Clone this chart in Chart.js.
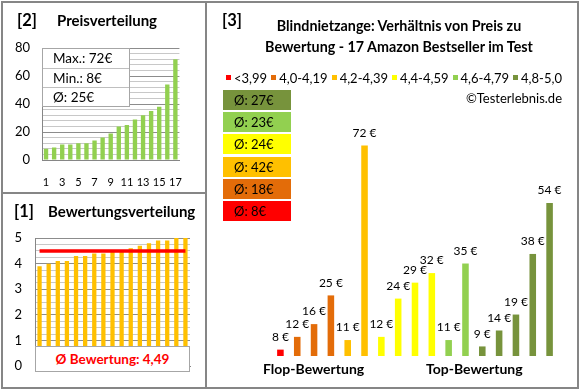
<!DOCTYPE html>
<html lang="de">
<head>
<meta charset="utf-8">
<title>Blindnietzange: Verhältnis von Preis zu Bewertung</title>
<script src="https://cdn.jsdelivr.net/npm/chart.js@4.4.1/dist/chart.umd.min.js"></script>
<style>
  body { margin: 0; background: #fff; font-family: Lato, "Open Sans", sans-serif; color: #000; }
  #wrap { position: relative; width: 580px; height: 390px; overflow: hidden; background: #fff; }
  #wrap > div, #wrap > canvas { position: absolute; }
  .rahmen { left: 1px; top: 1px; width: 578px; height: 388px; box-sizing: border-box; border: 2px solid #868686; }
  .trenn { background: #868686; }
  .nr { font-weight: bold; font-size: 16.5px; line-height: 18px; }
  .kopf { font-weight: bold; font-size: 15px; line-height: 18px; white-space: nowrap; }
  .infobox { left: 42px; top: 48px; width: 88px; background: #fff; border: 1px solid #a6a6a6; box-sizing: border-box; }
  .infobox .zeile { height: 19px; line-height: 19px; padding-left: 10px; font-size: 13.5px; border-top: 1px solid #bfbfbf; box-sizing: border-box; }
  .infobox .zeile:first-child { border-top: none; }
  .avgbox { left: 35px; top: 346px; width: 155px; height: 26px; background: #fff; border: 1px solid #a6a6a6; box-sizing: border-box;
            color: #ff0000; font-weight: bold; font-size: 13.5px; line-height: 24px; text-align: center; }
  #legende { left: 226px; top: 70px; width: 336px; display: flex; justify-content: space-between; font-size: 13px; line-height: 16px; white-space: nowrap; }
  #legende span { display: inline-block; width: 5px; height: 5px; margin-right: 3px; vertical-align: 3px; }
  .gruppe { position: absolute; left: 223px; width: 68px; height: 20px; line-height: 20px; font-size: 13px; padding-left: 11px; box-sizing: border-box; }
</style>
</head>
<body>
<div id="wrap">
  <canvas id="preisChart" width="195" height="189" style="left:3px;top:3px"></canvas>
  <canvas id="bewChart" width="195" height="193" style="left:3px;top:194px"></canvas>
  <canvas id="verhChart" width="369" height="383" style="left:207px;top:3px"></canvas>

  <div class="rahmen"></div>
  <div class="trenn" style="left:205px;top:1px;width:2px;height:388px"></div>
  <div class="trenn" style="left:1px;top:192px;width:205px;height:2px"></div>

  <div class="nr" style="left:17px;top:11px">[2]</div>
  <div class="kopf" style="left:57px;top:11px">Preisverteilung</div>
  <div class="infobox" id="infobox"></div>

  <div class="nr" style="left:14px;top:202px">[1]</div>
  <div class="kopf" style="left:48px;top:202px">Bewertungsverteilung</div>
  <div class="avgbox" id="avgbox"></div>

  <div class="nr" style="left:222px;top:11px">[3]</div>
  <div class="kopf" style="left:240px;top:15px;width:318px;text-align:center;line-height:21px;font-size:14.3px">Blindnietzange: Verhältnis von Preis zu<br>Bewertung - 17 Amazon Bestseller im Test</div>
  <div id="legende"></div>
  <div style="right:18px;top:90px;font-size:13px;line-height:16px">©Testerlebnis.de</div>
  <div id="gruppen"></div>
  <div class="kopf" style="left:263px;top:360px;font-size:14px">Flop-Bewertung</div>
  <div class="kopf" style="left:426px;top:360px;font-size:14px">Top-Bewertung</div>
</div>

<script>
// Daten
const positionen = ['1','2','3','4','5','6','7','8','9','10','11','12','13','14','15','16','17'];
const preiseSortiert = [8, 9, 11, 11, 12, 12, 14, 16, 19, 24, 25, 29, 32, 35, 38, 54, 72];
const bewertungenSortiert = [3.9, 4.0, 4.1, 4.1, 4.3, 4.3, 4.4, 4.4, 4.5, 4.5, 4.6, 4.7, 4.8, 4.9, 4.9, 5.0, 5.0];
const preisTicks = [0, 20, 40, 60, 80];
const bewertungTicks = [0, 1, 2, 3, 4, 5];
const preisMax = 72;
const preisMin = 8;
const preisSchnitt = 25;
const bewertungSchnitt = 4.49;

const gruppenNamen = ['<3,99', '4,0-4,19', '4,2-4,39', '4,4-4,59', '4,6-4,79', '4,8-5,0'];
const gruppenFarben = ['#FF0000', '#E36C09', '#FFC000', '#FFFF00', '#92D050', '#77933C'];
const gruppenSchnitt = [8, 18, 42, 24, 23, 27];
const produktPreise = [8, 12, 16, 25, 11, 72, 12, 24, 29, 32, 11, 35, 9, 14, 19, 38, 54];
const produktGruppe = [0, 1, 1, 1, 2, 2, 3, 3, 3, 3, 4, 4, 5, 5, 5, 5, 5];

Chart.defaults.font.family = 'Lato';
Chart.defaults.color = '#000';
Chart.defaults.animation = false;
Chart.defaults.responsive = false;
Chart.defaults.plugins.legend.display = false;
Chart.defaults.plugins.tooltip.enabled = false;

// Infobox Preise
document.getElementById('infobox').innerHTML =
    '<div class="zeile">Max.: ' + preisMax + '€</div>' +
    '<div class="zeile">Min.: ' + preisMin + '€</div>' +
    '<div class="zeile">Ø: ' + preisSchnitt + '€</div>';
document.getElementById('avgbox').textContent = 'Ø Bewertung: ' + String(bewertungSchnitt).replace('.', ',');

// Legende + Durchschnitt je Gruppe
let html = '';
gruppenNamen.forEach(function(name, i) {
    html += '<div><span style="background:' + gruppenFarben[i] + '"></span>' + name + '</div>';
});
document.getElementById('legende').innerHTML = html;

html = '';
for (let i = gruppenNamen.length - 1, r = 0; i >= 0; i--, r++) {
    html += '<div class="gruppe" style="top:' + Math.round(90 + r * 22.2) + 'px;background:' + gruppenFarben[i] + '">Ø: ' + gruppenSchnitt[i] + '€</div>';
}
document.getElementById('gruppen').innerHTML = html;

function gitterFarbe(major) {
    return function(ctx) {
        return ctx.tick && major(ctx.tick.value) ? '#8c8c8c' : '#c8c8c8';
    };
}

// [2] Preisverteilung
new Chart(document.getElementById('preisChart'), {
    type: 'bar',
    data: {
        labels: positionen,
        datasets: [{
            data: preiseSortiert,
            backgroundColor: '#92D050',
            barPercentage: 0.54,
            categoryPercentage: 1
        }]
    },
    options: {
        layout: { padding: { top: 45, right: 8, left: 0, bottom: 0 } },
        scales: {
            x: {
                grid: { display: false, drawTicks: false },
                border: { color: '#868686' },
                ticks: {
                    autoSkip: false, maxRotation: 0, padding: 16,
                    font: { size: 11 },
                    callback: function(v, i) { return i % 2 === 0 ? positionen[i] : ''; }
                },
                afterFit: function(s) { s.height = 32; }
            },
            y: {
                min: 0, max: 80,
                grid: { drawTicks: false, color: gitterFarbe(v => preisTicks.includes(v)) },
                border: { color: '#868686' },
                ticks: {
                    stepSize: 4, autoSkip: false, padding: 12,
                    font: { size: 13 },
                    callback: function(v) { return preisTicks.includes(v) ? v : ''; }
                },
                afterFit: function(s) { s.width = 39; }
            }
        }
    }
});

// [1] Bewertungsverteilung
new Chart(document.getElementById('bewChart'), {
    type: 'bar',
    data: {
        labels: positionen,
        datasets: [{
            type: 'line',
            data: [{ x: positionen[0], y: bewertungSchnitt }, { x: positionen[positionen.length - 1], y: bewertungSchnitt }],
            borderColor: '#FF0000',
            borderWidth: 3.5,
            pointRadius: 0,
            order: 0
        }, {
            data: bewertungenSortiert,
            backgroundColor: '#FFC000',
            barPercentage: 0.47,
            categoryPercentage: 1,
            order: 1
        }]
    },
    options: {
        layout: { padding: { top: 44, right: 8, left: 0, bottom: 0 } },
        scales: {
            x: {
                grid: { display: false },
                border: { color: '#868686' },
                ticks: { display: false },
                afterFit: function(s) { s.height = 13; }
            },
            y: {
                min: 0, max: 5,
                grid: { drawTicks: false, color: gitterFarbe(v => bewertungTicks.includes(v)) },
                border: { color: '#868686' },
                ticks: {
                    stepSize: 0.25, autoSkip: false, padding: 13,
                    font: { size: 13 },
                    callback: function(v) { return bewertungTicks.includes(v) ? v : ''; }
                },
                afterFit: function(s) { s.width = 32; }
            }
        }
    }
});

// [3] Preis zu Bewertung
const preisBeschriftung = {
    id: 'preisBeschriftung',
    afterDatasetsDraw: function(chart) {
        const ctx = chart.ctx;
        const meta = chart.getDatasetMeta(0);
        ctx.save();
        ctx.font = '12px Lato';
        ctx.fillStyle = '#000';
        ctx.textAlign = 'center';
        ctx.textBaseline = 'middle';
        meta.data.forEach(function(bar, i) {
            ctx.fillText(produktPreise[i] + ' €', bar.x, bar.y - 12.5);
        });
        ctx.restore();
    }
};

new Chart(document.getElementById('verhChart'), {
    type: 'bar',
    data: {
        labels: positionen,
        datasets: [{
            data: produktPreise,
            backgroundColor: produktGruppe.map(g => gruppenFarben[g]),
            barPercentage: 0.39,
            categoryPercentage: 1
        }]
    },
    options: {
        layout: { padding: { top: 117, right: 18, left: 65, bottom: 30 } },
        scales: {
            x: { display: false },
            y: { display: false, min: 6, max: 80 }
        }
    },
    plugins: [preisBeschriftung]
});
</script>
</body>
</html>
